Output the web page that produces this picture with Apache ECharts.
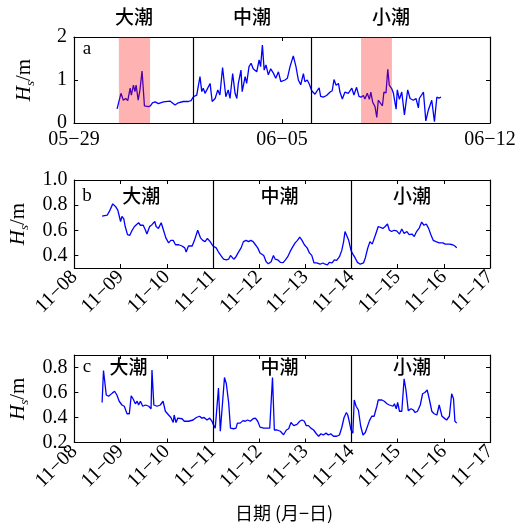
<!DOCTYPE html>
<html><head><meta charset="utf-8">
<script src="https://cdn.jsdelivr.net/npm/echarts@6/dist/echarts.min.js"></script>
<style>html,body{margin:0;padding:0;background:#fff}#c{width:524px;height:527px}</style>
</head><body><div id="c"></div><script>
// ---------------- data ----------------
const xTicksA = ['05−29', '06−05', '06−12'];
const xTicksBC = ['11−08', '11−09', '11−10', '11−11', '11−12', '11−13', '11−14', '11−15', '11−16', '11−17'];
const yTicksA = [0, 1, 2];
const yTicksB = [0.4, 0.6, 0.8, 1.0];
const yTicksC = [0.2, 0.4, 0.6, 0.8];
const tideNames = ['大潮', '中潮', '小潮'];
const panelLetters = ['a', 'b', 'c'];
const boundsA = [4, 8];          // days since 05-29
const boundsBC = [3, 6];         // days since 11-08
const bandsA = [[1.51, 2.56], [9.66, 10.70]];

// panel a: days since 05-29, Hs (m)
const daysA = [1.45,1.58,1.66,1.74,1.81,1.89,1.93,2.00,2.05,2.09,2.16,2.22,2.29,2.37,2.50,2.57,2.64,2.73,2.84,3.01,3.23,3.40,3.51,3.68,3.85,3.94,4.02,4.13,4.24,4.30,4.35,4.41,4.58,4.65,4.75,4.84,4.91,5.00,5.11,5.19,5.25,5.34,5.42,5.48,5.53,5.62,5.66,5.76,5.81,5.89,5.96,6.03,6.15,6.23,6.28,6.34,6.40,6.46,6.54,6.62,6.71,6.79,6.88,6.96,7.02,7.10,7.18,7.27,7.38,7.47,7.55,7.63,7.72,7.77,7.85,7.92,8.00,8.11,8.17,8.25,8.30,8.39,8.50,8.62,8.69,8.75,8.82,8.90,8.95,9.03,9.12,9.23,9.35,9.42,9.51,9.59,9.66,9.74,9.79,9.87,9.94,9.99,10.05,10.13,10.19,10.24,10.30,10.38,10.43,10.50,10.56,10.61,10.69,10.75,10.84,10.88,10.95,11.03,11.12,11.17,11.23,11.31,11.42,11.51,11.59,11.62,11.68,11.76,11.84,11.92,12.04,12.13,12.21,12.28,12.35];
const hsA = [0.33,0.69,0.53,0.57,0.52,0.81,0.65,0.88,0.73,0.88,0.53,0.77,1.21,0.40,0.38,0.40,0.47,0.49,0.45,0.49,0.51,0.42,0.47,0.50,0.50,0.52,0.61,0.65,1.08,0.73,0.81,0.69,0.92,0.50,0.57,0.77,0.65,1.29,0.61,0.77,0.57,1.15,0.69,0.57,0.92,1.23,0.73,1.08,0.92,1.31,1.39,1.26,1.19,1.47,1.31,1.81,1.23,1.35,1.12,1.26,1.16,1.04,1.19,0.96,0.92,1.00,1.04,1.31,1.56,1.31,1.00,0.89,1.15,0.96,1.00,0.90,0.75,0.67,0.69,0.82,0.62,0.60,0.64,0.72,0.75,1.01,0.88,0.92,0.72,0.56,0.72,0.69,0.81,0.65,0.83,0.62,0.60,0.64,0.56,0.69,0.55,0.72,0.49,0.38,0.13,0.53,0.52,0.40,0.72,0.70,1.25,0.88,0.80,0.69,0.32,0.77,0.55,0.72,0.19,0.22,0.77,0.57,0.53,0.57,0.35,0.57,0.53,0.72,0.05,0.29,0.53,0.03,0.60,0.58,0.60];

// panel b: days since 11-08, Hs (m)
const daysB = [0.60,0.71,0.76,0.83,0.89,0.94,1.00,1.03,1.07,1.10,1.15,1.20,1.25,1.30,1.34,1.39,1.43,1.49,1.54,1.57,1.63,1.68,1.74,1.77,1.82,1.88,1.93,1.98,2.04,2.09,2.14,2.19,2.26,2.33,2.39,2.42,2.47,2.55,2.60,2.67,2.73,2.78,2.83,2.88,2.94,3.00,3.07,3.12,3.17,3.23,3.29,3.34,3.38,3.41,3.45,3.50,3.56,3.61,3.66,3.72,3.77,3.82,3.87,3.92,3.97,4.02,4.10,4.15,4.20,4.26,4.31,4.35,4.40,4.46,4.52,4.57,4.62,4.67,4.73,4.78,4.83,4.88,4.93,4.98,5.04,5.09,5.14,5.19,5.25,5.32,5.38,5.43,5.48,5.52,5.58,5.63,5.68,5.74,5.79,5.83,5.86,5.90,5.94,5.99,6.03,6.08,6.13,6.19,6.26,6.30,6.35,6.40,6.45,6.49,6.53,6.58,6.62,6.68,6.73,6.78,6.82,6.87,6.92,6.98,7.04,7.09,7.14,7.20,7.25,7.31,7.36,7.41,7.47,7.52,7.57,7.62,7.67,7.72,7.77,7.83,7.90,7.98,8.03,8.06,8.12,8.19,8.24,8.28];
const hsB = [0.712,0.72,0.752,0.81,0.79,0.76,0.67,0.71,0.69,0.63,0.565,0.56,0.60,0.63,0.62,0.66,0.64,0.64,0.60,0.57,0.63,0.645,0.67,0.63,0.615,0.66,0.60,0.54,0.50,0.52,0.52,0.485,0.485,0.475,0.46,0.427,0.475,0.475,0.52,0.60,0.54,0.52,0.51,0.535,0.51,0.475,0.46,0.427,0.40,0.37,0.365,0.37,0.40,0.39,0.37,0.39,0.43,0.46,0.51,0.52,0.51,0.52,0.51,0.485,0.46,0.42,0.40,0.352,0.333,0.35,0.40,0.37,0.365,0.345,0.343,0.365,0.39,0.43,0.47,0.50,0.52,0.545,0.52,0.485,0.46,0.42,0.40,0.34,0.34,0.33,0.34,0.33,0.325,0.345,0.34,0.365,0.36,0.39,0.44,0.51,0.59,0.575,0.52,0.44,0.41,0.38,0.345,0.33,0.34,0.38,0.455,0.51,0.49,0.485,0.575,0.63,0.635,0.615,0.63,0.65,0.60,0.59,0.60,0.595,0.57,0.61,0.575,0.59,0.565,0.57,0.55,0.59,0.62,0.665,0.64,0.65,0.615,0.565,0.52,0.51,0.50,0.50,0.49,0.475,0.49,0.485,0.475,0.46];

// panel c: days since 11-08, Hs (m)
const daysC = [0.60,0.63,0.69,0.74,0.82,0.87,0.92,0.97,1.03,1.08,1.14,1.19,1.23,1.27,1.32,1.36,1.39,1.43,1.48,1.54,1.61,1.66,1.68,1.72,1.79,1.86,1.92,1.97,2.04,2.09,2.14,2.16,2.20,2.24,2.28,2.33,2.38,2.47,2.57,2.64,2.71,2.76,2.81,2.87,2.93,2.98,3.00,3.05,3.09,3.12,3.16,3.20,3.25,3.29,3.34,3.38,3.45,3.50,3.53,3.59,3.65,3.70,3.75,3.81,3.87,3.92,3.97,4.02,4.10,4.17,4.23,4.29,4.33,4.39,4.46,4.53,4.59,4.64,4.69,4.75,4.82,4.88,4.93,4.98,5.02,5.07,5.12,5.18,5.24,5.29,5.34,5.39,5.45,5.50,5.55,5.61,5.68,5.74,5.79,5.84,5.89,5.92,5.96,5.99,6.03,6.06,6.10,6.15,6.20,6.25,6.30,6.33,6.39,6.44,6.49,6.55,6.58,6.66,6.71,6.77,6.82,6.85,6.90,6.93,6.97,7.00,7.04,7.09,7.14,7.18,7.23,7.29,7.34,7.38,7.43,7.49,7.54,7.59,7.64,7.69,7.74,7.79,7.85,7.90,7.96,8.01,8.06,8.12,8.17,8.21,8.24,8.28];
const hsC = [0.52,0.776,0.58,0.57,0.595,0.61,0.58,0.53,0.50,0.49,0.43,0.43,0.574,0.55,0.51,0.53,0.50,0.53,0.49,0.50,0.49,0.47,0.78,0.50,0.49,0.50,0.53,0.45,0.42,0.40,0.36,0.42,0.36,0.395,0.38,0.39,0.37,0.37,0.38,0.40,0.41,0.395,0.40,0.38,0.395,0.37,0.35,0.315,0.31,0.635,0.29,0.30,0.72,0.67,0.52,0.315,0.31,0.315,0.355,0.355,0.375,0.37,0.38,0.37,0.39,0.395,0.37,0.323,0.315,0.315,0.315,0.72,0.30,0.30,0.29,0.262,0.30,0.31,0.36,0.335,0.345,0.37,0.38,0.37,0.335,0.335,0.315,0.30,0.27,0.25,0.27,0.26,0.275,0.26,0.27,0.25,0.25,0.26,0.32,0.40,0.44,0.42,0.355,0.30,0.275,0.54,0.49,0.46,0.33,0.26,0.28,0.285,0.375,0.41,0.41,0.49,0.54,0.54,0.53,0.51,0.50,0.515,0.49,0.51,0.47,0.52,0.45,0.45,0.71,0.62,0.455,0.47,0.46,0.44,0.45,0.50,0.59,0.60,0.62,0.54,0.45,0.43,0.42,0.50,0.41,0.395,0.38,0.41,0.59,0.55,0.37,0.355];

// ---------------- chart ----------------
const SERIF = 'Liberation Serif';
const CJK = 'Noto Sans CJK SC';
const FS = 20;
const zip = (xs, ys) => xs.map((x, i) => [x, ys[i]]);

const grids = [
  { left: 74, top: 37, width: 416, height: 86 },
  { left: 74, top: 180, width: 416, height: 88 },
  { left: 74, top: 355, width: 416, height: 87.5 }
];

const xCfg = [
  { min: 0, max: 14, interval: 7, ticks: xTicksA, rotate: 0 },
  { min: 0, max: 9, interval: 1, ticks: xTicksBC, rotate: 45 },
  { min: 0, max: 9, interval: 1, ticks: xTicksBC, rotate: 45 }
];
const yCfg = [
  { min: 0, max: 2, ticks: yTicksA, fmt: v => String(Math.round(v)), gap: 37 },
  { min: 0.3, max: 1.0, ticks: yTicksB, fmt: v => v.toFixed(1), gap: 33 },
  { min: 0.2, max: 0.9, ticks: yTicksC, fmt: v => v.toFixed(1), gap: 33 }
];

const xAxes = [], yAxes = [];
for (let g = 0; g < 3; g++) {
  const xc = xCfg[g], yc = yCfg[g];
  const common = { type: 'value', gridIndex: g, min: xc.min, max: xc.max, interval: xc.interval,
    axisLine: { onZero: false, lineStyle: { color: '#000', width: 1.2 } },
    axisTick: { inside: true, length: 4, lineStyle: { color: '#000' } },
    splitLine: { show: false } };
  xAxes.push(Object.assign({}, common, { position: 'bottom',
    axisLabel: { color: '#000', fontFamily: SERIF, fontSize: FS, rotate: xc.rotate, margin: xc.rotate ? 6 : 7,
      formatter: v => xc.ticks[Math.round((v - xc.min) / xc.interval)] || '' } }));
  xAxes.push(Object.assign({}, common, { position: 'top', axisLabel: { show: false } }));
  const yCommon = { type: 'value', gridIndex: g, min: yc.min, max: yc.max,
    axisLine: { show: true, onZero: false, lineStyle: { color: '#000', width: 1.2 } },
    axisTick: { show: true, inside: true, length: 4, customValues: yc.ticks, lineStyle: { color: '#000' } },
    splitLine: { show: false } };
  yAxes.push(Object.assign({}, yCommon, { position: 'left',
    name: '{i|H}{s|s}{n|/m}', nameLocation: 'middle', nameRotate: 90, nameGap: yc.gap,
    nameTextStyle: { rich: {
      i: { fontFamily: SERIF, fontStyle: 'italic', fontSize: 21, color: '#000', lineHeight: 26, verticalAlign: 'middle' },
      s: { fontFamily: SERIF, fontStyle: 'italic', fontSize: 13, color: '#000', lineHeight: 26, verticalAlign: 'bottom' },
      n: { fontFamily: SERIF, fontSize: 21, color: '#000', lineHeight: 26, verticalAlign: 'middle' } } },
    axisLabel: { color: '#000', fontFamily: SERIF, fontSize: FS, margin: 7, customValues: yc.ticks, formatter: yc.fmt } }));
  yAxes.push(Object.assign({}, yCommon, { position: 'right', axisLabel: { show: false, customValues: yc.ticks } }));
}

const boundLine = (b) => ({ silent: true, symbol: 'none', label: { show: false },
  lineStyle: { color: '#000', width: 1.2, type: 'solid' }, data: b.map(v => ({ xAxis: v })) });

const dataSets = [zip(daysA, hsA), zip(daysB, hsB), zip(daysC, hsC)];
const bounds = [boundsA, boundsBC, boundsBC];
const series = dataSets.map((d, g) => ({
  type: 'line', xAxisIndex: g * 2, yAxisIndex: g * 2, data: d, showSymbol: false, symbol: 'none',
  lineStyle: { color: '#0000FF', width: 1.3 }, itemStyle: { color: '#0000FF' }, z: 2,
  animation: false, markLine: boundLine(bounds[g])
}));
series.push({
  type: 'line', xAxisIndex: 0, yAxisIndex: 0, data: [], z: 10, animation: false,
  markArea: { silent: true, z: 10, itemStyle: { color: 'rgba(255,0,0,0.3)' },
    data: bandsA.map(b => [{ xAxis: b[0] }, { xAxis: b[1] }]) }
});

const chart = echarts.init(document.getElementById('c'), null, { renderer: 'canvas' });
chart.setOption({ animation: false, grid: grids, xAxis: xAxes, yAxis: yAxes, series: series });

// tide-stage titles, anchored in data space of each panel
const titleAnchors = [
  { g: 0, xs: [2.02, 5.99, 10.67], y: 2.465 },
  { g: 1, xs: [1.45, 4.44, 7.31], y: 0.872 },
  { g: 2, xs: [1.17, 4.44, 7.31], y: 0.806 }
];
const graphics = [];
titleAnchors.forEach(t => {
  t.xs.forEach((x, i) => {
    const p = chart.convertToPixel({ xAxisIndex: t.g * 2, yAxisIndex: t.g * 2 }, [x, t.y]);
    graphics.push({ type: 'text', x: p[0], y: p[1], z: 20,
      style: { text: tideNames[i], fontFamily: CJK, fontSize: 19, fontWeight: 500, fill: '#000', align: 'center', verticalAlign: 'middle' } });
  });
});
const letterY = [49, 196, 367];
panelLetters.forEach((l, g) => graphics.push({ type: 'text', x: 87, y: letterY[g], z: 20,
  style: { text: l, fontFamily: SERIF, fontSize: 19, fill: '#000', align: 'center', verticalAlign: 'middle' } }));
graphics.push({ type: 'text', x: 284, y: 513, z: 20,
  style: { text: '日期 (月−日)', fontFamily: CJK, fontSize: 18, fill: '#000', align: 'center', verticalAlign: 'middle' } });
chart.setOption({ graphic: graphics });
</script></body></html>
